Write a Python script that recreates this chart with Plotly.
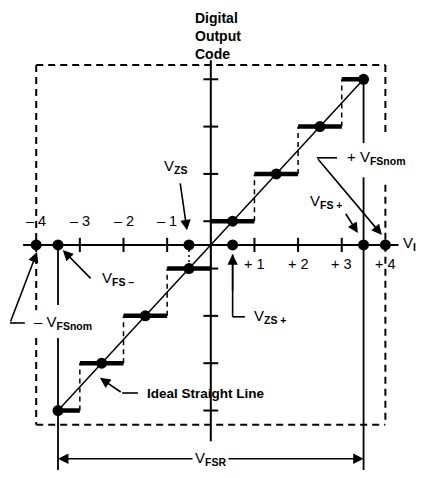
import plotly.graph_objects as go

# ideal 3-bit transfer function, everything in LSB units
code_levels = [-3.5, -2.5, -1.5, -0.5, 0.5, 1.5, 2.5, 3.5]
step_start = [-3.5, -3, -2, -1, 0, 1, 2, 3]
step_end = [-3, -2, -1, 0, 1, 2, 3, 3.5]
transitions = [-3, -2, -1, 0, 1, 2, 3]

# points marked on the V_I axis: -VFSnom, VFS-, VZS, VZS+, VFS+, +VFSnom
axis_points = [-4, -3.5, -0.5, 0.5, 3.5, 4]

x_ticks = [-3, -2, -1, 1, 2, 3]
x_label_pos = [-4, -3, -2, -1, 1, 2, 3, 4]
x_label_text = ['\u2013 4', '\u2013 3', '\u2013 2', '\u2013 1', '+ 1', '+ 2', '+ 3', '+ 4']

FONT = 'Liberation Sans, Arial, sans-serif'
INK = 'black'
FSR_Y = -4.52

fig = go.Figure()


def seg(xs, ys, width=1.5, dash='solid'):
    fig.add_trace(go.Scatter(x=xs, y=ys, mode='lines', hoverinfo='skip',
                             line=dict(color=INK, width=width, dash=dash)))


def joined(pairs):
    xs, ys = [], []
    for (x0, y0), (x1, y1) in pairs:
        xs += [x0, x1, None]
        ys += [y0, y1, None]
    return xs, ys


# dashed box
box = [((-4, 3.8), (4, 3.8)), ((-4, -3.8), (4, -3.8)),
       ((-4, 3.8), (-4, -1.38)), ((-4, -1.97), (-4, -3.8)),
       ((4, 3.8), (4, 2.3)), ((4, 1.27), (4, -3.8))]
seg(*joined(box), width=2, dash='7px,5px')

# axes
seg([-4.3, 4.3], [0, 0], width=2)
seg([0, 0], [3.9, -4.15], width=2)
seg(*joined([((t, -0.15), (t, 0.15)) for t in x_ticks]), width=2)
seg(*joined([((-0.17, c), (0.17, c)) for c in code_levels]), width=2)

# risers between codes
seg(*joined([((t, t - 0.5), (t, t + 0.5)) for t in transitions]), width=1.5, dash='5px,4px')
# dotted drop from VZS
seg([-0.5, -0.5], [0, -0.5], width=1.5, dash='2px,3px')

# full scale verticals
seg(*joined([((-3.5, 0), (-3.5, -1.27)), ((-3.5, -1.97), (-3.5, -5.0)),
             ((3.5, 3.5), (3.5, 2.15)), ((3.5, 1.43), (3.5, -5.0))]), width=1.8)

# ideal straight line
seg([code_levels[0], code_levels[-1]], [code_levels[0], code_levels[-1]], width=1.5)

# code steps
seg(*joined([((a, c), (b, c)) for a, b, c in zip(step_start, step_end, code_levels)]), width=4.5)

# leader lines
seg(*joined([((0.5, -0.2), (0.5, -1.52)), ((0.5, -1.52), (0.78, -1.52)),
             ((-4.26, -1.65), (-4.6, -1.65)), ((2.43, 1.84), (2.89, 1.84)),
             ((-1.67, -3.13), (-2.03, -3.13))]), width=1.6)

# dots
fig.add_trace(go.Scatter(x=code_levels, y=code_levels, mode='markers', hoverinfo='skip',
                         marker=dict(color=INK, size=11)))
fig.add_trace(go.Scatter(x=axis_points, y=[0] * len(axis_points), mode='markers',
                         hoverinfo='skip', marker=dict(color=INK, size=11)))


def arrow(x0, y0, x1, y1):
    return dict(x=x1, y=y1, ax=x0, ay=y0, xref='x', yref='y', axref='x', ayref='y',
                text='', showarrow=True, arrowhead=2, arrowsize=1.3, arrowwidth=1.6,
                arrowcolor=INK)


def label(x, y, text, size=15, anchor='left', yanchor='middle', **kw):
    return dict(x=x, y=y, xref='x', yref='y', text=text, showarrow=False,
                xanchor=anchor, yanchor=yanchor, font=dict(family=FONT, size=size, color=INK), **kw)


def vlab(sub):
    return 'V<sub><b>' + sub + '</b></sub>'


annotations = [
    arrow(-0.705, 1.33, -0.545, 0.31),
    arrow(0.5, -1.0, 0.5, -0.2),
    arrow(-2.72, -0.74, -3.39, -0.11),
    arrow(-4.6, -1.65, -3.98, -0.15),
    arrow(2.43, 1.84, 3.92, 0.21),
    arrow(3.07, 0.69, 3.37, 0.25),
    arrow(-2.03, -3.13, -2.54, -2.81),
    arrow(0, FSR_Y, 3.5, FSR_Y),
    arrow(0, FSR_Y, -3.5, FSR_Y),
    label(-0.41, 5.0, '<b>Digital<br>Output<br>Code</b>', size=14, align='left', yanchor='top'),
    label(-0.82, 1.65, vlab('ZS'), anchor='center'),
    label(0.94, -1.52, vlab('ZS +')),
    label(-2.54, -0.70, vlab('FS \u2013')),
    label(-4.10, -1.65, '\u2013 ' + vlab('FSnom')),
    label(3.07, 1.84, '+ ' + vlab('FSnom')),
    label(2.23, 0.91, vlab('FS +')),
    label(4.745, 0.02, vlab('I'), anchor='right'),
    label(-1.51, -3.13, '<b>Ideal Straight Line</b>', size=13.5),
    label(0, FSR_Y, vlab('FSR'), anchor='center', bgcolor='white', borderpad=2),
]
for xp, txt in zip(x_label_pos, x_label_text):
    annotations.append(label(xp, 0.5 if xp < 0 else -0.4, txt, size=14.5, anchor='center'))

# the page adds an 8px body margin, so the figure is shrunk to fit and ranges start 8px in
fig.update_layout(
    width=410, height=462,
    margin=dict(l=0, r=0, t=0, b=0),
    paper_bgcolor='white', plot_bgcolor='white',
    showlegend=False,
    xaxis=dict(range=[-4.646, 4.747], visible=False, fixedrange=True),
    yaxis=dict(range=[-4.757, 5.006], visible=False, fixedrange=True),
    annotations=annotations,
)

fig.write_html('out.html')
